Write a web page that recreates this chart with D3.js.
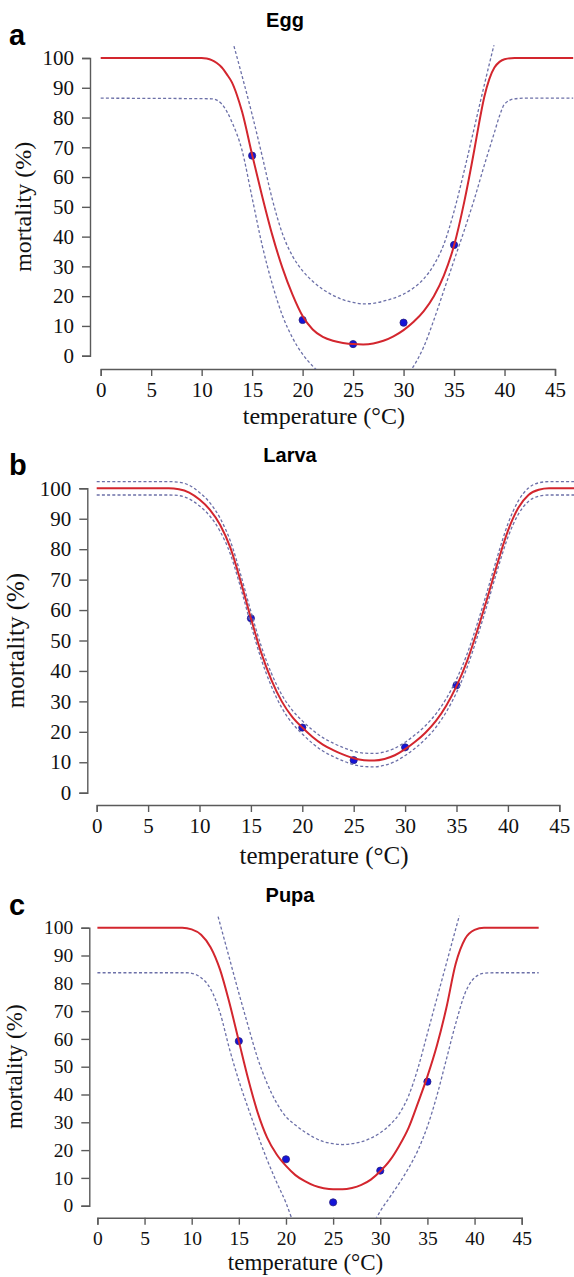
<!DOCTYPE html>
<html>
<head>
<meta charset="utf-8">
<script src="https://cdn.jsdelivr.net/npm/d3@7"></script>
<style>
  html, body { margin: 0; padding: 0; background: #fff; }
  svg { display: block; }
</style>
</head>
<body>
<svg id="chart"></svg>
<script>
// axis ticks
const tempTicks = [0, 5, 10, 15, 20, 25, 30, 35, 40, 45];
const mortalityTicks = [0, 10, 20, 30, 40, 50, 60, 70, 80, 90, 100];

// ---- Egg ----
const eggObsT = [15, 20, 25, 30, 35];
const eggObs = [67.2, 12.0, 3.9, 11.1, 37.2];
const eggFitT = [0, 10, 10.5, 11, 11.5, 12, 12.5, 13, 13.5, 14, 15, 16, 17, 18, 19, 20, 21, 22, 23, 24, 25, 26, 27, 28, 29, 30, 31, 32, 33, 34, 35, 36, 37, 37.5, 38, 38.5, 39, 39.5, 40, 41, 47];
const eggFit = [100, 100, 99.8, 99.3, 98.3, 96.8, 94.5, 91.8, 87.5, 82, 67.5, 53.5, 40.5, 29.5, 20.5, 13.3, 8.8, 6.3, 5, 4.3, 3.9, 3.8, 4.1, 5, 6.5, 8.6, 11.4, 15, 20, 27, 37, 51.5, 69, 78.5, 87, 93, 96.8, 98.7, 99.6, 100, 100];
const eggUpperT = [13.2, 14, 15, 16, 17, 18, 19, 20, 21, 22, 23, 24, 25, 26, 27, 28, 29, 30, 31, 32, 33, 34, 35, 36, 37, 38, 39];
const eggUpper = [104, 94, 81, 67, 52.5, 41, 33.5, 28.5, 25, 22.3, 20.3, 18.8, 17.9, 17.4, 17.6, 18.3, 19.3, 20.7, 22.8, 25.8, 30.5, 37.5, 48.5, 62, 76.5, 91, 105];
const eggLowerLeftT = [0, 11, 12, 12.5, 13, 14, 15, 16, 17, 18, 19, 20, 21, 21.6];
const eggLowerLeft = [86.5, 86.3, 84.5, 82, 78.5, 69, 53, 37, 24, 13.5, 6, 0.5, -3.5, -5.5];
const eggLowerRightT = [30.6, 31, 32, 33, 34, 35, 36, 37, 38, 39, 39.5, 40, 41, 42, 47];
const eggLowerRight = [-5.5, -3.5, 3, 12, 22, 32, 42, 52.5, 64, 75, 80.5, 84.5, 86.3, 86.5, 86.5];

// ---- Larva ----
const larvaObsT = [15, 20, 25, 30, 35];
const larvaObs = [57.3, 21.4, 10.7, 14.9, 35.3];
const larvaT = [0, 7, 8, 9, 10, 11, 12, 13, 14, 15, 16, 17, 18, 19, 20, 21, 22, 23, 24, 25, 26, 27, 28, 29, 30, 31, 32, 33, 34, 35, 36, 37, 38, 39, 40, 41, 42, 43, 44, 47];
const larvaFit = [100, 100, 99.7, 98.6, 96.3, 93, 88, 80.5, 69.5, 57.3, 46, 37, 30, 25, 21.4, 18.3, 15.8, 14, 12.5, 11.3, 10.7, 10.6, 11.1, 12.3, 14.3, 16.8, 19.8, 23.6, 28.6, 35, 43, 53, 64, 75.5, 86, 93.5, 97.8, 99.5, 100, 100];
const larvaUpper = [102.2, 102.2, 102, 101, 98.6, 95.3, 90.2, 82.7, 71.7, 59.5, 48.2, 39.2, 32.2, 27.2, 23.6, 20.6, 18.1, 16.3, 14.8, 13.6, 13, 12.9, 13.4, 14.6, 16.6, 19.1, 22.1, 25.9, 30.9, 37.3, 45.3, 55.3, 66.3, 77.8, 88.3, 95.8, 100.1, 101.8, 102.2, 102.2];
const larvaLower = [97.8, 97.8, 97.6, 96.5, 94.2, 90.9, 85.9, 78.4, 67.4, 55.2, 43.9, 34.9, 27.9, 22.9, 19.3, 16.2, 13.7, 11.9, 10.4, 9.2, 8.6, 8.5, 9, 10.2, 12.2, 14.7, 17.7, 21.5, 26.5, 32.9, 40.9, 50.9, 61.9, 73.4, 83.9, 91.4, 95.7, 97.4, 97.8, 97.8];

// ---- Pupa ----
const pupaObsT = [15, 20, 25, 30, 35];
const pupaObs = [59.2, 16.7, 1.2, 12.6, 44.6];
const pupaFitT = [0, 9, 10, 11, 12, 13, 14, 15, 16, 17, 18, 19, 20, 21, 22, 23, 24, 25, 26, 27, 28, 29, 30, 31, 32, 33, 34, 35, 36, 37, 38, 39, 40, 41, 47];
const pupaFit = [100, 100, 99.4, 97.5, 93, 85, 73, 59.2, 45.5, 33.5, 24.5, 18.5, 14.3, 11, 8.8, 7.2, 6.3, 5.9, 5.9, 6.4, 7.5, 9.4, 12.4, 16.2, 21.5, 28, 37, 46.5, 57.5, 71, 87, 96, 99.2, 100, 100];
const pupaUpperT = [12.8, 13, 14, 15, 16, 17, 18, 19, 20, 21, 22, 23, 24, 25, 26, 27, 28, 29, 30, 31, 32, 33, 34, 35, 36, 37, 38, 38.4];
const pupaUpper = [104, 101.5, 89, 76.5, 64.5, 53, 44, 37, 32, 29, 26.5, 24.5, 23, 22.3, 22, 22.3, 23, 24.3, 26.2, 29, 33, 39.5, 49.5, 62, 74.5, 87, 99.5, 104.5];
const pupaLowerLeftT = [0, 9.5, 10, 11, 12, 13, 14, 15, 16, 17, 18, 19, 20, 20.6];
const pupaLowerLeft = [83.8, 83.8, 83.6, 82, 78, 69.5, 56.5, 45, 35, 25.5, 16.5, 8.5, 1, -4.5];
const pupaLowerRightT = [29.5, 30, 31, 32, 33, 34, 35, 36, 37, 38, 39, 40, 41, 42, 47];
const pupaLowerRight = [-5, -2, 3, 8, 13.5, 20, 28.5, 39.5, 52.5, 65.5, 76.5, 82, 83.6, 83.8, 83.8];

const zip = (t, v) => t.map((d, i) => ({ t: d, m: v[i] }));

// layout of the three stacked panels (pixels)
const panels = [
    { letter: "a", title: "Egg", titleX: 285, titleY: 27, letterY: 45,
      xr: [100.7, 555], yr: [355.7, 58], yAxisX: 90, xAxisY: 369, xLabY: 424, yLabX: 31,
      tickFont: 21, labFont: 24,
      obs: zip(eggObsT, eggObs), fit: zip(eggFitT, eggFit),
      bands: [zip(eggUpperT, eggUpper), zip(eggLowerLeftT, eggLowerLeft), zip(eggLowerRightT, eggLowerRight)] },
    { letter: "b", title: "Larva", titleX: 290, titleY: 462, letterY: 475,
      xr: [96.7, 559.3], yr: [792.7, 488.3], yAxisX: 87.3, xAxisY: 805, xLabY: 864, yLabX: 24,
      tickFont: 21, labFont: 25,
      obs: zip(larvaObsT, larvaObs), fit: zip(larvaT, larvaFit),
      bands: [zip(larvaT, larvaUpper), zip(larvaT, larvaLower)] },
    { letter: "c", title: "Pupa", titleX: 290, titleY: 902, letterY: 915,
      xr: [97.4, 521.7], yr: [1205.7, 927.7], yAxisX: 89.3, xAxisY: 1217.7, xLabY: 1270, yLabX: 22,
      tickFont: 19.5, labFont: 23,
      obs: zip(pupaObsT, pupaObs), fit: zip(pupaFitT, pupaFit),
      bands: [zip(pupaUpperT, pupaUpper), zip(pupaLowerLeftT, pupaLowerLeft), zip(pupaLowerRightT, pupaLowerRight)] }
];

const width = 574, height = 1277;
const serif = "'Liberation Serif', 'Times New Roman', serif";
const sans = "'Liberation Sans', Arial, sans-serif";

const svg = d3.select("#chart").attr("width", width).attr("height", height);

panels.forEach((p, idx) => {
    const x = d3.scaleLinear().domain([0, 45]).range(p.xr);
    const y = d3.scaleLinear().domain([0, 100]).range(p.yr);
    const g = svg.append("g");

    // clip like R's plot region (4% beyond the axis range)
    const clipId = "clip" + idx;
    svg.append("clipPath").attr("id", clipId).append("rect")
        .attr("x", x(-1.8)).attr("y", y(104.3))
        .attr("width", x(46.8) - x(-1.8)).attr("height", p.xAxisY - y(104.3));

    // axes
    const yAxis = g.append("g")
        .attr("transform", `translate(${p.yAxisX},0)`)
        .call(d3.axisLeft(y).tickValues(mortalityTicks).tickSizeOuter(0).tickSize(8).tickPadding(8));
    const xAxis = g.append("g")
        .attr("transform", `translate(0,${p.xAxisY})`)
        .call(d3.axisBottom(x).tickValues(tempTicks).tickSizeOuter(0).tickSize(7).tickPadding(6));
    [yAxis, xAxis].forEach(a => {
        a.selectAll("path, line").attr("stroke", "#5a5a5a").attr("stroke-width", 1.4);
        a.selectAll("text").attr("font-family", serif).attr("font-size", p.tickFont).attr("fill", "#111");
    });

    const plot = g.append("g").attr("clip-path", `url(#${clipId})`);

    // observed points
    plot.selectAll("circle").data(p.obs).enter().append("circle")
        .attr("cx", d => x(d.t)).attr("cy", d => y(d.m)).attr("r", 3.6)
        .attr("fill", "#1414d8").attr("stroke", "#2a1f80").attr("stroke-width", 0.8);

    const line = d3.line().x(d => x(d.t)).y(d => y(d.m)).curve(d3.curveMonotoneX);

    // confidence bands
    p.bands.forEach(b => {
        plot.append("path").datum(b).attr("d", line)
            .attr("fill", "none").attr("stroke", "#6c70a8")
            .attr("stroke-width", 1.3).attr("stroke-dasharray", "3,2.2");
    });

    // fitted curve
    plot.append("path").datum(p.fit).attr("d", line)
        .attr("fill", "none").attr("stroke", "#d3262e").attr("stroke-width", 2);

    // labels
    g.append("text").attr("x", (p.xr[0] + x(45)) / 2 - 4).attr("y", p.xLabY)
        .attr("text-anchor", "middle").attr("font-family", serif).attr("font-size", p.labFont)
        .attr("fill", "#111").text("temperature (°C)");
    g.append("text")
        .attr("transform", `translate(${p.yLabX},${(p.yr[0] + p.yr[1]) / 2}) rotate(-90)`)
        .attr("text-anchor", "middle").attr("font-family", serif).attr("font-size", p.labFont)
        .attr("fill", "#111").text("mortality (%)");
    g.append("text").attr("x", p.titleX).attr("y", p.titleY)
        .attr("text-anchor", "middle").attr("font-family", sans).attr("font-weight", "bold")
        .attr("font-size", 20).attr("fill", "#000").text(p.title);
    g.append("text").attr("x", 9).attr("y", p.letterY)
        .attr("font-family", sans).attr("font-weight", "bold")
        .attr("font-size", 29).attr("fill", "#000").text(p.letter);
});
</script>
</body>
</html>
